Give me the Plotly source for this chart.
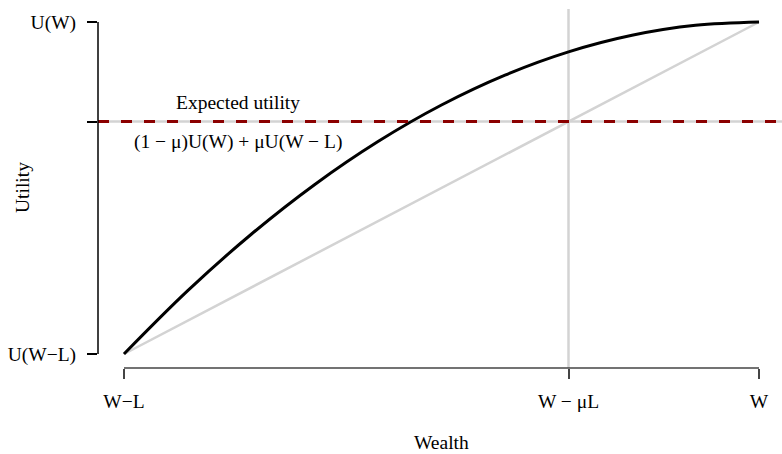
import plotly.graph_objects as go

# Data (normalised: W-L -> 0, W -> 1; U(W-L) -> 0, U(W) -> 1)
wealth = [0.0, 0.1, 0.2, 0.3, 0.4, 0.5, 0.6, 0.7, 0.8, 0.9, 1.0]
utility = [0.0, 0.19, 0.36, 0.51, 0.64, 0.75, 0.84, 0.91, 0.96, 0.99, 1.0]
chord_x = [0.0, 1.0]
chord_y = [0.0, 1.0]
mu = 0.3
expected_wealth = 1 - mu          # W - muL
expected_utility = 0.7             # (1-mu)U(W) + muU(W-L)

x_tickvals = [0.0, expected_wealth, 1.0]
x_ticktext = ["W\u2212L", "W \u2212 \u03bcL", "W"]
y_tickvals = [0.0, expected_utility, 1.0]
y_ticktext = ["U(W\u2212L)", "", "U(W)"]

FONT = "Liberation Serif"
FS = 19.5
GRAY = "#d3d3d3"

fig = go.Figure()

fig.add_trace(go.Scatter(x=chord_x, y=chord_y, mode="lines",
                         line=dict(color=GRAY, width=2.5), hoverinfo="skip"))
fig.add_trace(go.Scatter(x=wealth, y=utility, mode="lines", line_shape="spline",
                         line=dict(color="black", width=3), hoverinfo="skip"))

# reference lines
fig.add_shape(type="line", xref="x", yref="paper", x0=expected_wealth, x1=expected_wealth,
              y0=0, y1=1, line=dict(color=GRAY, width=2.5), layer="below")
fig.add_shape(type="line", xref="paper", yref="y", x0=0, x1=1,
              y0=expected_utility, y1=expected_utility, line=dict(color=GRAY, width=2.5), layer="below")
fig.add_shape(type="line", xref="paper", yref="y", x0=0, x1=1,
              y0=expected_utility, y1=expected_utility,
              line=dict(color="#8b0000", width=3, dash="11px,12px"), layer="above")

# axis lines (segments)
fig.add_shape(type="line", xref="paper", yref="y", x0=0, x1=0, y0=0, y1=1,
              line=dict(color="black", width=1.5), layer="above")
fig.add_shape(type="line", xref="x", yref="paper", x0=0, x1=1, y0=0, y1=0,
              line=dict(color="#444444", width=1.5), layer="above")

fig.add_annotation(x=0.18, y=expected_utility, xref="x", yref="y", text="Expected utility",
                   showarrow=False, yshift=19, font=dict(family=FONT, size=FS, color="black"))
fig.add_annotation(x=0.18, y=expected_utility, xref="x", yref="y",
                   text="(1 \u2212 \u03bc)U(W) + \u03bcU(W \u2212 L)",
                   showarrow=False, yshift=-20, font=dict(family=FONT, size=FS, color="black"))

fig.add_annotation(x=0, y=0.5, xref="paper", yref="y", text="Utility", textangle=-90,
                   xanchor="center", yanchor="middle",
                   showarrow=False, xshift=-76, font=dict(family=FONT, size=FS, color="black"))
fig.add_annotation(x=0.5, y=0, xref="x", yref="paper", text="Wealth",
                   xanchor="center", yanchor="middle",
                   showarrow=False, yshift=-74, font=dict(family=FONT, size=FS, color="black"))

fig.update_layout(
    width=782, height=454,
    margin=dict(l=98, r=0, t=9, b=86),
    plot_bgcolor="white", paper_bgcolor="white",
    showlegend=False,
    font=dict(family=FONT, size=FS, color="black"),
    xaxis=dict(range=[-0.0409, 1.0362], showgrid=False, zeroline=False, showline=False,
               tickvals=x_tickvals, ticktext=x_ticktext, ticks="outside", ticklen=10,
               tickwidth=1.5, tickcolor="#444444", ticklabelstandoff=6),
    yaxis=dict(range=[-0.0422, 1.0392], showgrid=False, zeroline=False, showline=False,
               tickvals=y_tickvals, ticktext=y_ticktext, ticks="outside", ticklen=10,
               tickwidth=1.5, tickcolor="black", ticklabelstandoff=7),
)

fig.write_html("out.html", config={"displayModeBar": False},
               post_script="document.body.style.margin='0';")
